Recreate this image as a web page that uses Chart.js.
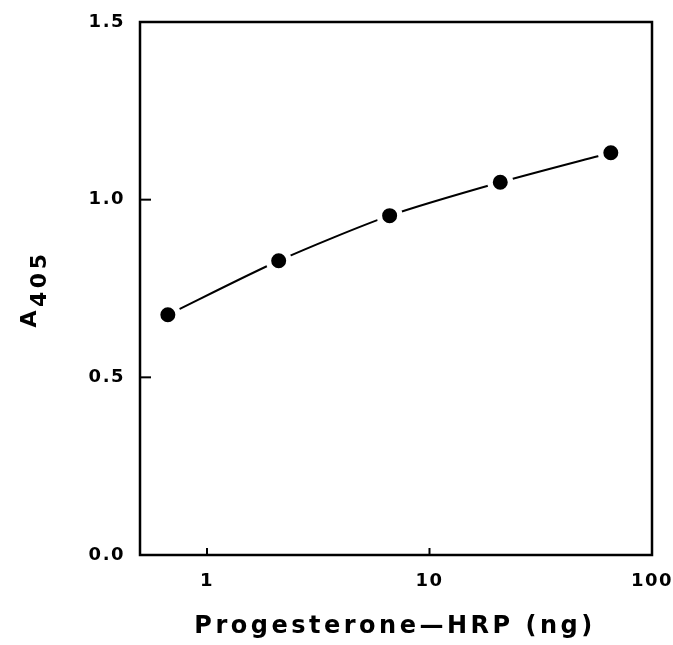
<!DOCTYPE html>
<html><head><meta charset="utf-8">
<script src="https://cdn.jsdelivr.net/npm/chart.js@4/dist/chart.umd.min.js"></script>
<style>html,body{margin:0;padding:0;background:#fff}#wrap{width:673px;height:645px;position:relative}</style>
</head><body><div id="wrap"><canvas id="c" width="673" height="645"></canvas></div>
<script>
const amountNg = [0.667, 2.1, 6.62, 20.8, 65.3];
const absorbance = [0.676, 0.828, 0.955, 1.049, 1.132];
const xTicks = [1, 10, 100];
const yTicks = [0, 0.5, 1.0, 1.5];
const xTitle = 'Progesterone\u2014HRP (ng)';
const yTitleMain = 'A';
const yTitleSub = '405';

const FONT = '"DejaVu Sans", sans-serif';

const framePlugin = {
  id: 'frame',
  beforeDraw(chart) { chart.ctx.letterSpacing = '1.5px'; },
  afterDraw(chart) {
    const {ctx, chartArea: a, scales} = chart;
    ctx.save();
    ctx.strokeStyle = '#000';
    ctx.lineWidth = 2.5;
    ctx.strokeRect(a.left, a.top, a.right - a.left, a.bottom - a.top);
    ctx.lineWidth = 2;
    xTicks.forEach(v => {
      const px = scales.x.getPixelForValue(v);
      ctx.beginPath(); ctx.moveTo(px, a.bottom); ctx.lineTo(px, a.bottom - 7); ctx.stroke();
    });
    yTicks.forEach(v => {
      const py = scales.y.getPixelForValue(v);
      ctx.beginPath(); ctx.moveTo(a.left, py); ctx.lineTo(a.left + 11, py); ctx.stroke();
    });
    ctx.fillStyle = '#000';
    ctx.font = 'bold 24px ' + FONT;
    ctx.letterSpacing = '3.5px';
    ctx.textAlign = 'center';
    ctx.textBaseline = 'alphabetic';
    ctx.fillText(xTitle, 395, 633);
    ctx.translate(36, 289);
    ctx.rotate(-Math.PI / 2);
    ctx.letterSpacing = '3.5px';
    ctx.textAlign = 'left';
    ctx.font = 'bold 22px ' + FONT;
    const wA = ctx.measureText(yTitleMain).width;
    const wS = ctx.measureText(yTitleSub).width;
    const start = -(wA + wS) / 2;
    ctx.fillText(yTitleMain, start, 0);
    ctx.fillText(yTitleSub, start + wA, 10);
    ctx.restore();
  }
};

new Chart(document.getElementById('c'), {
  type: 'scatter',
  data: {
    datasets: [{
      data: amountNg.map((x, i) => ({x, y: absorbance[i]})),
      showLine: true,
      borderColor: '#000',
      borderWidth: 2,
      tension: 0.25,
      pointRadius: 10.25,
      pointBorderWidth: 5.5,
      pointBackgroundColor: '#000',
      pointBorderColor: '#fff',
      pointHoverRadius: 10.25
    }]
  },
  plugins: [framePlugin],
  options: {
    responsive: false,
    animation: false,
    events: [],
    layout: {padding: {left: 0, right: 21, top: 22, bottom: 0}},
    plugins: {legend: {display: false}, tooltip: {enabled: false}},
    scales: {
      x: {
        type: 'logarithmic',
        min: 0.5, max: 100,
        afterBuildTicks(s) { s.ticks = xTicks.map(v => ({value: v})); },
        afterFit(s) { s.height = 90; s.paddingRight = 0; s.paddingLeft = 0; },
        grid: {display: false, drawTicks: false},
        border: {display: false},
        ticks: {
          color: '#000', padding: 16, maxRotation: 0,
          font: {family: FONT, weight: 'bold', size: 18},
          callback: v => String(v)
        }
      },
      y: {
        min: 0, max: 1.5,
        afterBuildTicks(s) { s.ticks = yTicks.map(v => ({value: v})); },
        afterFit(s) { s.width = 140; s.paddingTop = 0; s.paddingBottom = 0; },
        grid: {display: false, drawTicks: false},
        border: {display: false},
        ticks: {
          color: '#000', padding: 15,
          font: {family: FONT, weight: 'bold', size: 18},
          callback: v => Number(v).toFixed(1)
        }
      }
    }
  }
});
</script></body></html>
